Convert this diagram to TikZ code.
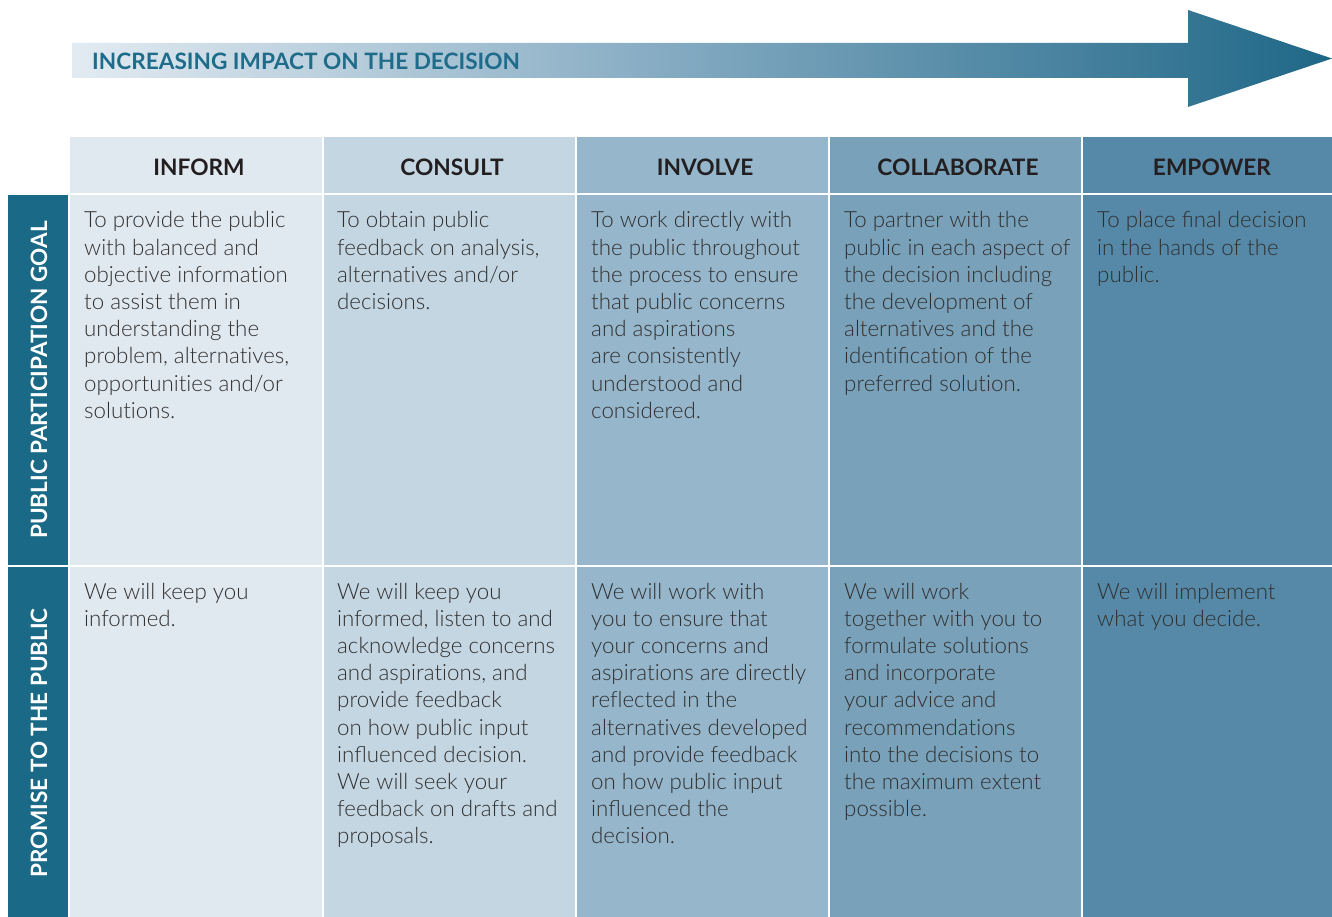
\documentclass[tikz,border=0pt]{standalone}
\usepackage{fontspec}
\setmainfont{Lato}[UprightFont=* Light, BoldFont=* Bold, RawFeature=-liga]
\newfontfamily\latobold{Lato Bold}
\usetikzlibrary{positioning}
\definecolor{cA}{HTML}{E1E9F0}
\definecolor{cB}{HTML}{C4D6E2}
\definecolor{cC}{HTML}{96B6CB}
\definecolor{cD}{HTML}{79A1B9}
\definecolor{cE}{HTML}{5689A7}
\definecolor{side}{HTML}{1A6A87}
\definecolor{ttl}{HTML}{1F6C8A}
\definecolor{arL}{HTML}{E3EBF2}
\definecolor{arM}{HTML}{7FA7BF}
\definecolor{arR}{HTML}{1F6787}
\definecolor{txt}{HTML}{303030}
\definecolor{hdr}{HTML}{231F20}
\tikzset{
  body/.style={anchor=base west, inner sep=0pt, text=txt, font=\fontsize{22.3}{27.2}\selectfont},
  head/.style={inner sep=0pt, text=hdr, font=\latobold\fontsize{22.7}{26}\selectfont},
  sidelabel/.style={inner sep=0pt, text=white, rotate=90, font=\latobold\fontsize{22.5}{26}\selectfont}
}
\newcommand{\celltext}[1]{\parbox[t]{245pt}{\raggedright #1}}
\begin{document}
\begin{tikzpicture}[x=1pt,y=-1pt]
\useasboundingbox (0,0) rectangle (1332,917);
% arrow
\shade[left color=arL, right color=arR, middle color=arM, shading angle=90]
  (72,43) -- (1188,43) -- (1188,10) -- (1332,58.5) -- (1188,107) -- (1188,78) -- (72,78) -- cycle;
\node[anchor=west, inner sep=0pt, text=ttl, font=\latobold\fontsize{22.6}{26}\selectfont] (title) at (92,61) {INCREASING IMPACT ON THE DECISION};
% header cells
\fill[cA] (70,137) rectangle (322,193);
\fill[cB] (324,137) rectangle (575,193);
\fill[cC] (577,137) rectangle (828,193);
\fill[cD] (830,137) rectangle (1081,193);
\fill[cE] (1083,137) rectangle (1332,193);
% row 1
\fill[cA] (70,195) rectangle (322,565);
\fill[cB] (324,195) rectangle (575,565);
\fill[cC] (577,195) rectangle (828,565);
\fill[cD] (830,195) rectangle (1081,565);
\fill[cE] (1083,195) rectangle (1332,565);
% row 2
\fill[cA] (70,567) rectangle (322,917);
\fill[cB] (324,567) rectangle (575,917);
\fill[cC] (577,567) rectangle (828,917);
\fill[cD] (830,567) rectangle (1081,917);
\fill[cE] (1083,567) rectangle (1332,917);
% side labels
\fill[side] (8,195) rectangle (68,565);
\fill[side] (8,567) rectangle (68,917);
\node[sidelabel] (goal) at (39,380) {PUBLIC PARTICIPATION GOAL};
\node[sidelabel] (promise) at (39,743) {PROMISE TO THE PUBLIC};
% headers
\node[head] (h1) at (199,167) {INFORM};
\node[head] (h2) at (452,167) {CONSULT};
\node[head] (h3) at (705,167) {INVOLVE};
\node[head] (h4) at (958,167) {COLLABORATE};
\node[head] (h5) at (1212,167) {EMPOWER};
% row 1 text
\node[body] (g1) at (84,228) {\celltext{To provide the public\\with balanced and\\objective information\\to assist them in\\understanding the\\problem, alternatives,\\opportunities and/or\\solutions.}};
\node[body] (g2) at (337,228) {\celltext{To obtain public\\feedback on analysis,\\alternatives and/or\\decisions.}};
\node[body] (g3) at (591,228) {\celltext{To work directly with\\the public throughout\\the process to ensure\\that public concerns\\and aspirations\\are consistently\\understood and\\considered.}};
\node[body] (g4) at (844,228) {\celltext{To partner with the\\public in each aspect of\\the decision including\\the development of\\alternatives and the\\identiﬁcation of the\\preferred solution.}};
\node[body] (g5) at (1097,228) {\celltext{To place ﬁnal decision\\in the hands of the\\public.}};
% row 2 text
\node[body] (p1) at (84,599) {\celltext{We will keep you\\informed.}};
\node[body] (p2) at (337,599) {\celltext{We will keep you\\informed, listen to and\\acknowledge concerns\\and aspirations, and\\provide feedback\\on how public input\\inﬂuenced decision.\\We will seek your\\feedback on drafts and\\proposals.}};
\node[body] (p3) at (591,599) {\celltext{We will work with\\you to ensure that\\your concerns and\\aspirations are directly\\reflected in the\\alternatives developed\\and provide feedback\\on how public input\\inﬂuenced the\\decision.}};
\node[body] (p4) at (844,599) {\celltext{We will work\\together with you to\\formulate solutions\\and incorporate\\your advice and\\recommendations\\into the decisions to\\the maximum extent\\possible.}};
\node[body] (p5) at (1097,599) {\celltext{We will implement\\what you decide.}};
\end{tikzpicture}
\end{document}
